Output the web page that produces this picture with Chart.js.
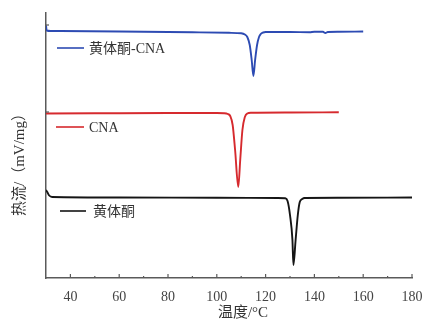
<!DOCTYPE html>
<html><head><meta charset="utf-8">
<script src="https://cdn.jsdelivr.net/npm/chart.js@4.4.1/dist/chart.umd.min.js"></script>
<style>html,body{margin:0;padding:0;background:#fff}canvas{display:block}</style>
</head><body>
<canvas id="c" width="425" height="328"></canvas>
<script>
// Temperature (°C) and heat-flow (arbitrary offset units)
const tempBlue = [30,30.3,32,60,90,105,110,111.5,112.5,113.5,114.3,115,115.7,116.5,117.3,118,119,120,130,138,140,143.5,144.5,145.5,150,160];
const flowBlue = [252.5,247.5,247,246.5,245.7,245.2,244.7,243.5,241,233,218,202,218,233,241,244,245.5,246,246,245.7,246.2,246.2,245,246,246.2,246.5];
const tempRed  = [30,50,80,100,103,104.5,105.5,106.5,107.5,108.8,109.6,110.5,111.5,112.5,114,130,150];
const flowRed  = [164.5,164.7,165,165,164.8,164,162,153,128,91,118,148,161,164.5,165.2,165.5,165.7];
const tempBlack = [30,30.5,31.3,32.5,60,100,125,128,129,130,131,131.4,132.3,133.2,134,135,136,150,180];
const flowBlack = [88,86,82.5,81,80.5,80.2,80,79.7,77,63,38,13,38,63,76,79,80,80.2,80.5];
const seriesLabels = ['黄体酮-CNA','CNA','黄体酮'];
const xTickValues = [40,60,80,100,120,140,160,180];
const xMinorValues = [50,70,90,110,130,150,170];
const yTickValues = [166,253];
const xTitle = '温度/°C';
const yTitle = '热流/（mV/mg）';

const pts = (xs, ys) => xs.map((x, i) => ({x, y: ys[i]}));
const FONT = '"Liberation Serif", "Noto Sans CJK SC", serif';
const AXIS = '#5a5a5a';

const decor = {
  id: 'decor',
  afterDraw(chart) {
    const ctx = chart.ctx, xs = chart.scales.x, ys = chart.scales.y, a = chart.chartArea;
    ctx.save();
    ctx.strokeStyle = AXIS; ctx.lineWidth = 1.2;
    xTickValues.forEach(v => { const p = xs.getPixelForValue(v); ctx.beginPath(); ctx.moveTo(p, a.bottom); ctx.lineTo(p, a.bottom - 4); ctx.stroke(); });
    xMinorValues.forEach(v => { const p = xs.getPixelForValue(v); ctx.beginPath(); ctx.moveTo(p, a.bottom); ctx.lineTo(p, a.bottom - 2); ctx.stroke(); });
    yTickValues.forEach(v => { const p = ys.getPixelForValue(v); ctx.beginPath(); ctx.moveTo(a.left, p); ctx.lineTo(a.left + 3, p); ctx.stroke(); });
    // legends placed beside each curve
    const pos = [[57,84,89,48],[56,84,89,127],[60,86,93,211]];
    ctx.font = '14px ' + FONT; ctx.textBaseline = 'middle'; ctx.textAlign = 'left';
    chart.data.datasets.forEach((d, i) => {
      const [x1, x2, tx, y] = pos[i];
      ctx.strokeStyle = d.borderColor; ctx.lineWidth = 1.6;
      ctx.beginPath(); ctx.moveTo(x1, y); ctx.lineTo(x2, y); ctx.stroke();
      ctx.fillStyle = '#333'; ctx.fillText(d.label, tx, y + 1);
    });
    // axis titles
    ctx.fillStyle = '#333'; ctx.textAlign = 'center';
    ctx.font = '15px ' + FONT;
    ctx.fillText(xTitle, 243, 313);
    ctx.translate(20, 161); ctx.rotate(-Math.PI / 2);
    ctx.fillText(yTitle, 0, 0);
    ctx.restore();
  }
};

new Chart(document.getElementById('c'), {
  type: 'line',
  data: {
    datasets: [
      {label: seriesLabels[0], data: pts(tempBlue, flowBlue), borderColor: '#2d4bb3'},
      {label: seriesLabels[1], data: pts(tempRed, flowRed), borderColor: '#d62a2e'},
      {label: seriesLabels[2], data: pts(tempBlack, flowBlack), borderColor: '#151515'}
    ].map(d => Object.assign(d, {borderWidth: 1.9, pointRadius: 0, fill: false, cubicInterpolationMode: 'monotone'}))
  },
  options: {
    responsive: false, animation: false, events: [],
    layout: {padding: {top: 13, right: 13, left: 0, bottom: 0}},
    plugins: {legend: {display: false}, tooltip: {enabled: false}},
    scales: {
      x: {
        type: 'linear', min: 30, max: 180,
        afterBuildTicks: s => { s.ticks = xTickValues.map(v => ({value: v})); },
        afterFit: s => { s.height = 50; s.paddingRight = 0; s.paddingLeft = 0; },
        grid: {display: false, drawTicks: false},
        border: {display: true, color: AXIS, width: 1.5},
        ticks: {padding: 11, color: '#444', font: {family: FONT, size: 14}, maxRotation: 0}
      },
      y: {
        type: 'linear', min: 0, max: 265,
        afterFit: s => { s.width = 46; s.paddingTop = 0; s.paddingBottom = 0; },
        grid: {display: false, drawTicks: false},
        border: {display: true, color: AXIS, width: 1.5},
        ticks: {display: false}
      }
    }
  },
  plugins: [decor]
});
</script>
</body></html>
